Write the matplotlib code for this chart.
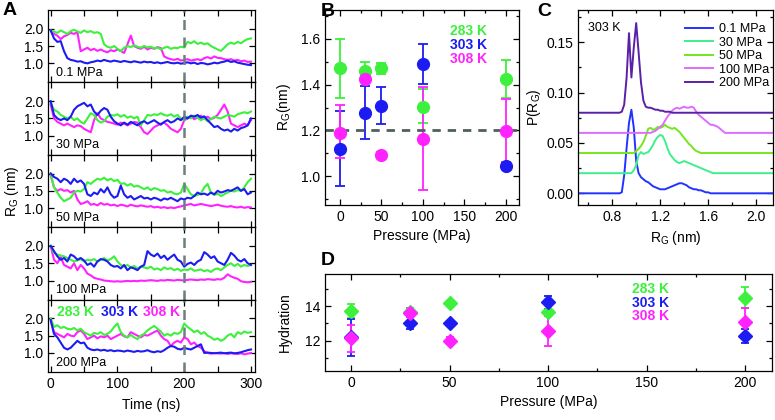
import numpy as np
import matplotlib
matplotlib.use('Agg')
import matplotlib.pyplot as plt
from matplotlib.ticker import MultipleLocator

plt.rcParams['font.family'] = ['Liberation Sans', 'DejaVu Sans']
plt.rcParams['font.size'] = 9
plt.rcParams['mathtext.fontset'] = 'custom'
plt.rcParams['mathtext.rm'] = 'Liberation Sans'

GREEN = '#3cf03c'
BLUE = '#1c1cf2'
MAGENTA = '#ff22ff'

# ---------------- Panel A: R_G time traces (sampled every 5 ns) ----------------
time_ns = list(range(0, 301, 5))
pressures_a = ['0.1 MPa', '30 MPa', '50 MPa', '100 MPa', '200 MPa']

green_01 = [1.95, 1.92, 1.88, 1.95, 1.90, 1.85, 1.93, 1.97, 1.92, 1.88, 1.95, 1.90, 1.93, 1.88, 1.90, 1.85,
            1.55, 1.48, 1.45, 1.50, 1.42, 1.35, 1.45, 1.50, 1.47, 1.52, 1.48, 1.45, 1.50, 1.46, 1.48, 1.43,
            1.46, 1.40, 1.45, 1.48, 1.42, 1.45, 1.44, 1.48, 1.46, 1.62, 1.58, 1.64, 1.56, 1.60, 1.55, 1.58,
            1.50, 1.45, 1.40, 1.36, 1.45, 1.55, 1.60, 1.56, 1.62, 1.58, 1.65, 1.70, 1.72]
blue_01 = [1.95, 1.72, 1.62, 1.64, 1.35, 1.15, 1.10, 1.08, 1.05, 1.06, 1.02, 1.00, 1.03, 1.05, 1.08, 1.06,
           1.10, 1.07, 1.05, 1.08, 1.06, 1.04, 1.07, 1.05, 1.03, 1.06, 1.04, 1.02, 1.05, 1.03, 1.04, 1.01,
           1.03, 1.00, 1.02, 1.04, 1.01, 1.00, 1.02, 0.99, 1.01, 1.03, 1.00, 1.02, 0.98, 1.01, 1.00, 0.97,
           0.99, 1.02, 1.00, 1.03, 1.05, 1.08, 1.04, 1.06, 1.02, 1.00, 0.98, 0.96, 0.95]
magenta_01 = [1.95, 1.85, 1.80, 1.70, 1.78, 1.82, 1.88, 1.85, 1.90, 1.35, 1.40, 1.45, 1.38, 1.42, 1.36, 1.40,
              1.35, 1.32, 1.38, 1.35, 1.40, 1.36, 1.30, 1.55, 1.80, 1.50, 1.45, 1.42, 1.48, 1.40, 1.45, 1.42,
              1.47, 1.44, 1.20, 1.15, 1.12, 1.10, 1.13, 1.08, 1.10, 1.12, 1.08, 1.10, 1.12, 1.09, 1.15, 1.18,
              1.14, 1.20, 1.16, 1.15, 1.12, 1.10, 1.12, 1.08, 1.10, 1.06, 1.08, 1.04, 1.05]

green_30 = [1.95, 1.75, 1.70, 1.60, 1.55, 1.50, 1.55, 1.45, 1.50, 1.40, 1.35, 1.50, 1.65, 1.60, 1.45, 1.38,
            1.42, 1.55, 1.60, 1.58, 1.62, 1.55, 1.60, 1.52, 1.56, 1.50, 1.55, 1.30, 1.45, 1.60, 1.58, 1.62,
            1.60, 1.65, 1.60, 1.58, 1.62, 1.55, 1.60, 1.50, 1.45, 1.55, 1.50, 1.58, 1.52, 1.45, 1.50, 1.42,
            1.48, 1.55, 1.52, 1.50, 1.55, 1.60, 1.58, 1.55, 1.62, 1.65, 1.68, 1.65, 1.70]
blue_30 = [2.00, 1.60, 1.50, 1.45, 1.50, 1.45, 1.55, 1.75, 1.85, 1.90, 1.95, 1.85, 1.90, 1.70, 1.60, 1.72,
           1.80, 1.75, 1.55, 1.42, 1.35, 1.30, 1.38, 1.32, 1.40, 1.35, 1.30, 1.38, 1.42, 1.35, 1.40, 1.45,
           1.38, 1.32, 1.40, 1.45, 1.38, 1.42, 1.50, 1.45, 1.55, 1.50, 1.58, 1.55, 1.60, 1.52, 1.56, 1.45,
           1.35, 1.25, 1.28, 1.20, 1.15, 1.18, 1.12, 1.20, 1.15, 1.22, 1.25, 1.30, 1.50]
magenta_30 = [1.90, 1.50, 1.40, 1.35, 1.30, 1.35, 1.30, 1.25, 1.30, 1.28, 1.20, 1.15, 1.10, 1.45, 1.65, 1.50,
              1.45, 1.40, 1.38, 1.35, 1.32, 1.38, 1.35, 1.30, 1.35, 1.40, 1.38, 1.25, 1.10, 1.05, 1.15, 1.25,
              1.30, 1.35, 1.38, 1.30, 1.20, 1.15, 1.10, 1.20, 1.45, 1.50, 1.55, 1.48, 1.52, 1.58, 1.50, 1.55,
              1.48, 1.52, 1.60, 1.75, 1.90, 1.70, 1.35, 1.30, 1.25, 1.30, 1.35, 1.30, 1.45]

green_50 = [2.00, 1.60, 1.45, 1.30, 1.20, 1.25, 1.30, 1.45, 1.50, 1.48, 1.55, 1.75, 1.70, 1.78, 1.85, 1.82,
            1.88, 1.80, 1.85, 1.78, 1.82, 1.70, 1.72, 1.65, 1.70, 1.62, 1.65, 1.60, 1.55, 1.60, 1.52, 1.58,
            1.55, 1.50, 1.52, 1.45, 1.48, 1.42, 1.40, 1.45, 1.70, 1.55, 1.40, 1.35, 1.38, 1.42, 1.60, 1.70,
            1.45, 1.38, 1.42, 1.35, 1.40, 1.45, 1.50, 1.48, 1.52, 1.50, 1.60, 1.75, 1.85]
blue_50 = [2.00, 1.90, 1.85, 1.75, 1.85, 1.80, 1.70, 1.85, 1.75, 1.80, 1.70, 1.40, 1.35, 1.45, 1.40, 1.55,
           1.45, 1.60, 1.40, 1.30, 1.35, 1.65, 1.40, 1.30, 1.35, 1.25, 1.30, 1.35, 1.28, 1.30, 1.25, 1.30,
           1.27, 1.22, 1.28, 1.25, 1.30, 1.25, 1.20, 1.28, 1.25, 1.30, 1.28, 1.35, 1.45, 1.40, 1.42, 1.38,
           1.45, 1.40, 1.50, 1.45, 1.48, 1.52, 1.50, 1.55, 1.60, 1.50, 1.55, 1.40, 1.45]
magenta_50 = [1.95, 1.60, 1.50, 1.55, 1.50, 1.52, 1.45, 1.50, 1.25, 1.12, 1.15, 1.20, 1.10, 1.12, 1.08, 1.15,
              1.10, 1.12, 1.08, 1.10, 1.06, 1.10, 1.08, 1.05, 1.10, 1.07, 1.05, 1.08, 1.06, 1.04, 1.06, 1.02,
              1.04, 1.01, 1.03, 1.00, 1.02, 1.00, 1.03, 1.05, 1.08, 1.10, 1.12, 1.08, 1.10, 1.12, 1.10, 1.08,
              1.06, 1.08, 1.10, 1.07, 1.05, 1.04, 1.06, 1.03, 1.02, 1.04, 1.01, 1.03, 1.02]

green_100 = [2.00, 1.80, 1.75, 1.72, 1.70, 1.65, 1.60, 1.55, 1.58, 1.62, 1.55, 1.60, 1.58, 1.62, 1.55, 1.60,
             1.65, 1.58, 1.62, 1.70, 1.55, 1.45, 1.40, 1.45, 1.38, 1.42, 1.35, 1.40, 1.38, 1.35, 1.40, 1.32,
             1.35, 1.30, 1.38, 1.33, 1.36, 1.30, 1.34, 1.28, 1.32, 1.30, 1.35, 1.28, 1.30, 1.32, 1.27, 1.30,
             1.25, 1.32, 1.35, 1.30, 1.38, 1.45, 1.50, 1.42, 1.48, 1.40, 1.45, 1.42, 1.45]
blue_100 = [2.00, 1.85, 1.70, 1.60, 1.65, 1.55, 1.75, 1.70, 1.60, 1.65, 1.58, 1.45, 1.50, 1.40, 1.55, 1.62,
            1.60, 1.55, 1.45, 1.40, 1.42, 1.35, 1.45, 1.30, 1.38, 1.35, 1.30, 1.40, 1.45, 1.85, 1.75, 1.70,
            1.78, 1.65, 1.72, 1.60, 1.68, 1.75, 1.60, 1.55, 1.40, 1.48, 1.52, 1.45, 1.55, 1.60, 1.82, 1.75,
            1.65, 1.70, 1.55, 1.50, 1.45, 1.60, 1.80, 1.72, 1.60, 1.55, 1.62, 1.50, 1.45]
magenta_100 = [2.00, 1.60, 1.50, 1.68, 1.45, 1.40, 1.35, 1.50, 1.30, 1.45, 1.35, 1.20, 1.15, 1.08, 1.05, 1.03,
               1.00, 0.99, 0.98, 0.97, 0.98, 0.97, 0.98, 0.99, 0.98, 0.99, 0.98, 1.00, 0.99, 1.00, 1.01, 1.00,
               0.99, 1.01, 1.00, 1.02, 1.01, 1.00, 1.02, 1.01, 1.00, 1.02, 1.03, 1.02, 1.01, 1.03, 1.02, 1.04,
               1.03, 1.02, 1.04, 1.03, 1.08, 1.18, 1.12, 1.08, 1.05, 0.98, 0.96, 0.95, 0.96]

green_200 = [2.00, 1.75, 1.80, 1.72, 1.75, 1.70, 1.68, 1.72, 1.65, 1.70, 1.60, 1.55, 1.50, 1.58, 1.55, 1.60,
             1.52, 1.55, 1.62, 1.75, 1.85, 1.60, 1.50, 1.45, 1.52, 1.45, 1.40, 1.50, 1.55, 1.65, 1.72, 1.78,
             1.70, 1.62, 1.50, 1.55, 1.50, 1.58, 1.55, 1.60, 1.85, 1.75, 1.68, 1.60, 1.65, 1.55, 1.60, 1.50,
             1.45, 1.38, 1.42, 1.35, 1.40, 1.50, 1.55, 1.45, 1.60, 1.55, 1.62, 1.58, 1.60]
blue_200 = [1.95, 1.55, 1.45, 1.30, 1.15, 1.10, 1.15, 1.25, 1.35, 1.28, 1.30, 1.15, 1.10, 1.08, 1.10, 1.07,
            1.09, 1.06, 1.08, 1.05, 1.07, 1.06, 1.04, 1.07, 1.05, 1.03, 1.06, 1.04, 1.05, 1.08, 1.04, 1.02,
            1.05, 1.03, 1.08, 1.15, 1.20, 1.18, 1.12, 1.10, 1.15, 1.12, 1.10, 1.15, 1.20, 1.25, 1.00, 1.01,
            1.00, 0.99, 1.00, 1.01, 0.99, 1.00, 1.01, 0.99, 1.00, 1.02, 1.05, 1.08, 1.10]
magenta_200 = [1.95, 1.60, 1.55, 1.50, 1.45, 1.55, 1.50, 1.48, 1.60, 1.65, 1.55, 1.40, 1.45, 1.50, 1.42, 1.48,
               1.45, 1.50, 1.40, 1.45, 1.50, 1.55, 1.48, 1.45, 1.60, 1.55, 1.50, 1.45, 1.52, 1.50, 1.55, 1.60,
               1.65, 1.50, 1.40, 1.35, 1.20, 1.30, 1.35, 1.30, 1.45, 1.40, 1.25, 1.30, 1.20, 1.15, 1.05, 1.00,
               0.98, 1.00, 0.99, 0.98, 1.00, 0.97, 0.99, 0.98, 0.97, 0.99, 0.96, 0.98, 1.00]

traces = [
    (green_01, blue_01, magenta_01),
    (green_30, blue_30, magenta_30),
    (green_50, blue_50, magenta_50),
    (green_100, blue_100, magenta_100),
    (green_200, blue_200, magenta_200),
]

# ---------------- Panel B: mean R_G vs pressure ----------------
pressure = [0, 30, 50, 100, 200]
rg_283 = [1.472, 1.460, 1.472, 1.304, 1.425]
rg_283_lo = [1.343, 1.447, 1.447, 1.233, 1.340]
rg_283_hi = [1.600, 1.499, 1.494, 1.380, 1.510]
rg_303 = [1.120, 1.274, 1.308, 1.490, 1.044]
rg_303_lo = [0.955, 1.160, 1.227, 1.402, 1.030]
rg_303_hi = [1.285, 1.392, 1.389, 1.578, 1.058]
rg_308 = [1.190, 1.427, 1.094, 1.161, 1.198]
rg_308_lo = [1.078, 1.415, 1.085, 0.937, 1.060]
rg_308_hi = [1.310, 1.440, 1.104, 1.389, 1.337]

# ---------------- Panel C: P(R_G) at 303 K ----------------
rg_grid = np.round(np.arange(0.86, 1.901, 0.02), 2)
p_01 = [0, 0.001, 0.018, 0.045, 0.070, 0.083, 0.065, 0.032, 0.020, 0.016, 0.014, 0.012, 0.011, 0.009,
        0.007, 0.006, 0.005, 0.004, 0.004, 0.004, 0.005, 0.006, 0.007, 0.008, 0.009, 0.010, 0.010, 0.009,
        0.008, 0.006, 0.005, 0.004, 0.004, 0.003, 0.003, 0.002, 0.001, 0.001] + [0] * 15
p_30 = [0] * 6 + [0.003, 0.008, 0.018, 0.021, 0.019, 0.020, 0.021, 0.024, 0.028, 0.033, 0.036, 0.038,
                  0.037, 0.032, 0.025, 0.019, 0.016, 0.013, 0.011, 0.010, 0.011, 0.012, 0.011, 0.010,
                  0.009, 0.008, 0.007, 0.006, 0.005, 0.004, 0.003, 0.002, 0.001] + [0] * 14
p_50 = [0] * 7 + [0.002, 0.004, 0.007, 0.011, 0.017, 0.024, 0.025, 0.023, 0.024, 0.026, 0.025, 0.026,
                  0.028, 0.026, 0.025, 0.024, 0.025, 0.023, 0.021, 0.018, 0.015, 0.012, 0.009, 0.007,
                  0.004, 0.002, 0.001] + [0] * 19
p_100 = [0] * 14 + [0.001, 0.002, 0.004, 0.006, 0.008, 0.012, 0.016, 0.019, 0.022, 0.024, 0.025, 0.024,
                    0.025, 0.026, 0.025, 0.025, 0.026, 0.025, 0.021, 0.018, 0.016, 0.014, 0.012, 0.010,
                    0.008, 0.008, 0.007, 0.006, 0.004, 0.002] + [0] * 9
p_200 = [0, 0.001, 0.008, 0.035, 0.079, 0.035, 0.065, 0.089, 0.060, 0.030, 0.012, 0.006, 0.005, 0.005,
         0.004, 0.003, 0.003, 0.002, 0.002, 0.001, 0.001, 0.001] + [0] * 31
dist_labels = ['0.1 MPa', '30 MPa', '50 MPa', '100 MPa', '200 MPa']
dist_offsets = [0.0, 0.02, 0.04, 0.06, 0.08]
dist_colors = ['#2233ff', '#3ef08c', '#74e61c', '#de6cff', '#5a20a8']

# ---------------- Panel D: hydration vs pressure ----------------
hyd_283 = [13.71, 13.67, 14.15, 13.67, 14.48]
hyd_283_err = [0.40, 0.20, 0.12, 0.15, 0.60]
hyd_303 = [12.19, 13.00, 13.04, 14.21, 12.27]
hyd_303_err = [1.05, 0.35, 0.10, 0.36, 0.41]
hyd_308 = [12.13, 13.62, 12.00, 12.56, 13.06]
hyd_308_err = [0.80, 0.25, 0.22, 0.86, 0.84]

W, H = 775, 420
fig = plt.figure(figsize=(W / 100, H / 100), dpi=100)


def frac(x0, y0, x1, y1):
    return [x0 / W, 1 - y1 / H, (x1 - x0) / W, (y1 - y0) / H]


def style(ax):
    ax.tick_params(which='both', direction='in', top=True, right=True, labelsize=10, width=0.9)
    ax.tick_params(which='major', length=4.5)
    ax.tick_params(which='minor', length=2.5)
    for s in ax.spines.values():
        s.set_linewidth(0.9)


# Panel A
a_top, a_bot = 10, 372
sub_h = (a_bot - a_top) / 5
axes_a = []
for i in range(5):
    ax = fig.add_axes(frac(48, a_top + i * sub_h, 255, a_top + (i + 1) * sub_h))
    g, b, m = traces[i]
    ax.plot(time_ns, m, color=MAGENTA, lw=1.5)
    ax.plot(time_ns, g, color=GREEN, lw=1.5)
    ax.plot(time_ns, b, color=BLUE, lw=1.5)
    ax.axvline(200, color='#6f7f7f', ls=(0, (4, 3)), lw=1.8)
    ax.set_xlim(-4, 306)
    ax.set_ylim(0.45, 2.54)
    ax.set_yticks([1.0, 1.5, 2.0])
    ax.xaxis.set_major_locator(MultipleLocator(100))
    ax.xaxis.set_minor_locator(MultipleLocator(50))
    style(ax)
    ax.tick_params(axis='x', which='both', length=4.5)
    if i < 4:
        ax.set_xticklabels([])
    ax.text(8, 0.72, pressures_a[i], fontsize=9, va='center')
    axes_a.append(ax)
axes_a[-1].set_xlabel('Time (ns)', fontsize=10, labelpad=5)
axes_a[-1].text(10, 2.17, '283 K', color=GREEN, fontsize=10, fontweight='bold', va='center')
axes_a[-1].text(76, 2.17, '303 K', color=BLUE, fontsize=10, fontweight='bold', va='center')
axes_a[-1].text(139, 2.17, '308 K', color=MAGENTA, fontsize=10, fontweight='bold', va='center')
fig.text(0.016, 1 - 191 / H, r'R$_\mathrm{G}$ (nm)', rotation=90, va='center', ha='center', fontsize=10)

# Panel B
axb = fig.add_axes(frac(325, 10, 519, 205))
for vals, lo, hi, c in [(rg_283, rg_283_lo, rg_283_hi, GREEN),
                        (rg_303, rg_303_lo, rg_303_hi, BLUE),
                        (rg_308, rg_308_lo, rg_308_hi, MAGENTA)]:
    yerr = [np.array(vals) - np.array(lo), np.array(hi) - np.array(vals)]
    axb.errorbar(pressure, vals, yerr=yerr, fmt='o', color=c, ms=8.5, capsize=3.5, elinewidth=1.3,
                 capthick=1.3, mec=c)
axb.axhline(1.2, color='#4f5f5f', ls=(0, (3, 2.5)), lw=2)
axb.set_xlim(-18, 216)
axb.set_ylim(0.873, 1.727)
axb.xaxis.set_major_locator(MultipleLocator(50))
axb.xaxis.set_minor_locator(MultipleLocator(25))
axb.yaxis.set_major_locator(MultipleLocator(0.2))
axb.yaxis.set_minor_locator(MultipleLocator(0.1))
axb.yaxis.set_major_formatter(matplotlib.ticker.FormatStrFormatter('%.1f'))
style(axb)
axb.set_xlabel('Pressure (MPa)', fontsize=10)
axb.set_ylabel(r'R$_\mathrm{G}$(nm)', fontsize=10, labelpad=6)
axb.text(0.645, 0.892, '283 K', color=GREEN, transform=axb.transAxes, fontsize=10, fontweight='bold', va='center')
axb.text(0.645, 0.823, '303 K', color=BLUE, transform=axb.transAxes, fontsize=10, fontweight='bold', va='center')
axb.text(0.645, 0.749, '308 K', color=MAGENTA, transform=axb.transAxes, fontsize=10, fontweight='bold', va='center')

# Panel C
axc = fig.add_axes(frac(578, 10, 773, 205))
for p, lab, off, c in zip([p_01, p_30, p_50, p_100, p_200], dist_labels, dist_offsets, dist_colors):
    x = np.concatenate([[0.4], rg_grid, [2.3]])
    y = np.concatenate([[0.0], p, [0.0]]) + off
    axc.plot(x, y, color=c, lw=1.4, label=lab)
axc.set_xlim(0.515, 2.14)
axc.set_ylim(-0.0116, 0.182)
axc.xaxis.set_major_locator(MultipleLocator(0.4))
axc.xaxis.set_minor_locator(MultipleLocator(0.2))
axc.yaxis.set_major_locator(MultipleLocator(0.05))
axc.yaxis.set_minor_locator(MultipleLocator(0.025))
axc.yaxis.set_major_formatter(matplotlib.ticker.FormatStrFormatter('%.2f'))
style(axc)
axc.set_xlabel(r'R$_\mathrm{G}$ (nm)', fontsize=10)
axc.set_ylabel(r'P(R$_\mathrm{G}$)', fontsize=10, labelpad=2)
axc.text(0.05, 0.91, '303 K', transform=axc.transAxes, fontsize=9, va='center')
axc.legend(loc='upper right', frameon=False, fontsize=9, handlelength=2.2, labelspacing=0.12,
           handletextpad=0.5, borderaxespad=0.2, bbox_to_anchor=(1.02, 0.97))

# Panel D
axd = fig.add_axes(frac(325, 274, 772, 371))
for vals, err, c in [(hyd_283, hyd_283_err, GREEN), (hyd_303, hyd_303_err, BLUE), (hyd_308, hyd_308_err, MAGENTA)]:
    axd.errorbar(pressure, vals, yerr=err, fmt='D', color=c, ms=7, capsize=3, elinewidth=1.3,
                 capthick=1.3, mec=c)
axd.set_xlim(-13.2, 213.7)
axd.set_ylim(10.25, 15.85)
axd.xaxis.set_major_locator(MultipleLocator(50))
axd.xaxis.set_minor_locator(MultipleLocator(25))
axd.yaxis.set_major_locator(MultipleLocator(2))
axd.yaxis.set_minor_locator(MultipleLocator(1))
style(axd)
axd.set_xlabel('Pressure (MPa)', fontsize=10)
axd.set_ylabel('Hydration', fontsize=10, labelpad=9)
axd.text(0.687, 0.845, '283 K', color=GREEN, transform=axd.transAxes, fontsize=10, fontweight='bold', va='center')
axd.text(0.687, 0.706, '303 K', color=BLUE, transform=axd.transAxes, fontsize=10, fontweight='bold', va='center')
axd.text(0.687, 0.567, '308 K', color=MAGENTA, transform=axd.transAxes, fontsize=10, fontweight='bold', va='center')

# Panel letters
for lab, x, y in [('A', 3, 2), ('B', 321, 3), ('C', 537, 3), ('D', 321, 252)]:
    fig.text(x / W, 1 - y / H, lab, fontsize=14, fontweight='bold', va='top', ha='left')

fig.savefig('out.png', dpi=100)
